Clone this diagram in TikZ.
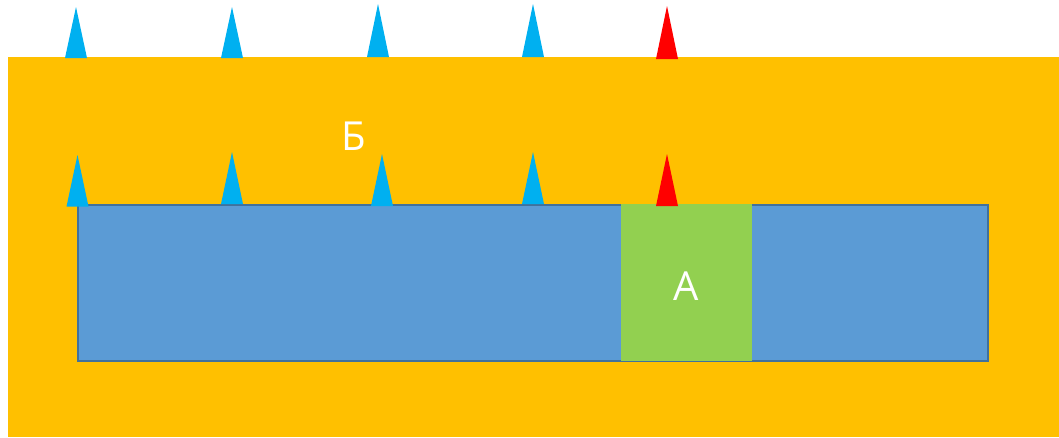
\documentclass[tikz,border=0pt]{standalone}
\usepackage{fontspec}
\setmainfont{Open Sans}
\usetikzlibrary{positioning}

\definecolor{soil}{HTML}{FFC000}
\definecolor{slab}{HTML}{5B9BD5}
\definecolor{slabedge}{HTML}{41719C}
\definecolor{zone}{HTML}{92D050}
\definecolor{flow}{HTML}{00B0F0}
\definecolor{leak}{HTML}{FF0000}

\begin{document}
\begin{tikzpicture}[
  x=1pt, y=-1pt,
  layer/.style={fill=soil},
  body/.style={fill=slab, draw=slabedge, line width=2pt},
  patch/.style={fill=zone},
  label/.style={text=white, font=\fontsize{40}{48}\selectfont, inner sep=0pt},
  pin/.style={fill=flow},
  hotpin/.style={fill=leak}
]
\useasboundingbox (0,0) rectangle (1059,437);
\fill[layer] (8,57) rectangle (1059,437);
\draw[body] (78,205) rectangle (988,360.5);
\fill[patch] (621,204) rectangle (752,361);
\node[label] (zoneB) at (354,136) {Б};
\node[label] (zoneA) at (686,286) {А};
% upper row
\foreach \x/\yb/\yt in {76/58/7, 232/58/7, 378/57/4, 533/57/4}
  \fill[pin] (\x-11,\yb) -- (\x,\yt) -- (\x+11,\yb) -- cycle;
\fill[hotpin] (656,59) -- (667,6) -- (678,59) -- cycle;
% lower row
\foreach \x/\yb/\yt in {77.5/206.5/155, 232/204/152, 382/206/154, 533/204/152}
  \fill[pin] (\x-11,\yb) -- (\x,\yt) -- (\x+11,\yb) -- cycle;
\fill[hotpin] (656,206) -- (667,154) -- (678,206) -- cycle;
\end{tikzpicture}
\end{document}
